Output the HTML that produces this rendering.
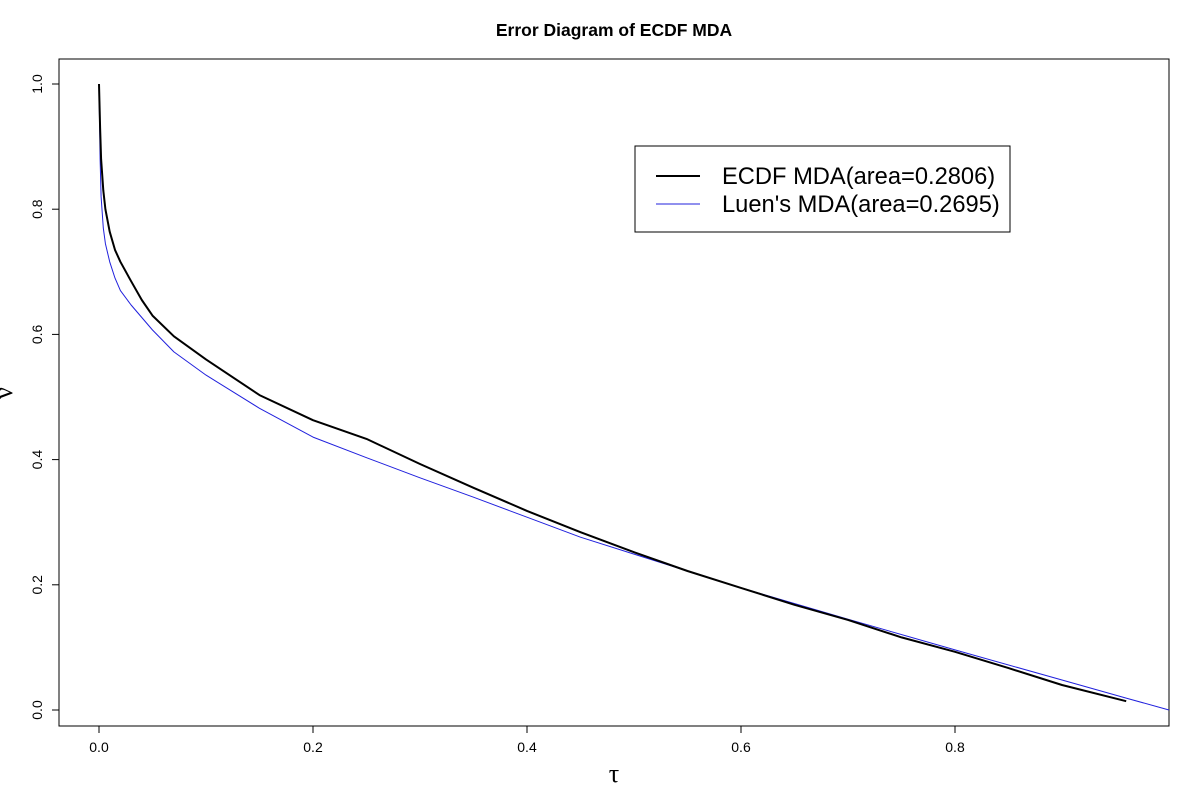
<!DOCTYPE html>
<html><head><meta charset="utf-8"><style>body{margin:0;background:#fff}svg{display:block;font-family:"Liberation Sans",sans-serif}</style></head>
<body>
<svg id="c" width="1200" height="800"></svg>
<script>
const ecdfX=[0,0.001,0.002,0.004,0.006,0.01,0.015,0.02,0.03,0.04,0.05,0.07,0.1,0.15,0.2,0.25,0.3,0.35,0.4,0.45,0.5,0.55,0.6,0.65,0.7,0.75,0.8,0.85,0.9,0.96];
const ecdfY=[1.0,0.93,0.88,0.83,0.8,0.764,0.735,0.716,0.685,0.655,0.63,0.597,0.56,0.503,0.463,0.433,0.393,0.355,0.318,0.284,0.252,0.222,0.195,0.168,0.144,0.116,0.093,0.067,0.04,0.014];
const luenX=[0,0.001,0.002,0.004,0.006,0.01,0.015,0.02,0.03,0.05,0.07,0.1,0.15,0.2,0.25,0.3,0.35,0.4,0.45,0.5,0.55,0.6,0.7,0.8,0.9,0.96,1.0];
const luenY=[1.0,0.88,0.82,0.77,0.745,0.716,0.69,0.67,0.647,0.607,0.572,0.535,0.482,0.436,0.403,0.371,0.34,0.308,0.276,0.249,0.222,0.195,0.145,0.096,0.048,0.019,0.0];
const xTicks=[0,0.2,0.4,0.6,0.8];
const xTickLabels=["0.0","0.2","0.4","0.6","0.8"];
const yTicks=[0,0.2,0.4,0.6,0.8,1.0];
const yTickLabels=["0.0","0.2","0.4","0.6","0.8","1.0"];
const NS="http://www.w3.org/2000/svg",svg=document.getElementById('c');
const sx=v=>99+1070*v, sy=v=>710-626*v;
function mk(t,a,txt){const e=document.createElementNS(NS,t);for(const k in a)e.setAttribute(k,a[k]);if(txt!=null)e.textContent=txt;svg.appendChild(e);return e;}
let e;
e=mk('rect',{x:59,y:59,width:1110,height:667,fill:'none',stroke:'#000'});


e=mk('text',{x:614,y:36,'text-anchor':'middle','font-size':17.5,'font-weight':'bold'},'Error Diagram of ECDF MDA');


e=mk('line',{x1:sx(0),x2:sx(0.8),y1:726,y2:726,stroke:'#000'});


xTicks.forEach((v,i)=>{
 e=mk('line',{x1:sx(v),x2:sx(v),y1:726,y2:733,stroke:'#000'});
 
 
 e=mk('text',{x:sx(v),y:752,'text-anchor':'middle','font-size':14},xTickLabels[i]);
 
 
});
e=mk('line',{x1:59,x2:59,y1:sy(0),y2:sy(1),stroke:'#000'});


yTicks.forEach((v,i)=>{
 e=mk('line',{x1:52,x2:59,y1:sy(v),y2:sy(v),stroke:'#000'});
 
 
 e=mk('text',{x:0,y:0,'text-anchor':'middle','font-size':14,transform:`translate(42,${sy(v)}) rotate(-90)`},yTickLabels[i]);
 
 
});
e=mk('text',{x:614,y:782,'text-anchor':'middle','font-size':26,'font-family':'Liberation Serif, serif'},'τ');


e=mk('text',{x:0,y:0,'text-anchor':'middle','font-size':26,'font-family':'Liberation Serif, serif',transform:'translate(12,393) rotate(-90)'},'ν');


function line(X,Y,col,w,name){const d=X.map((v,i)=>(i?'L':'M')+sx(v).toFixed(1)+','+sy(Y[i]).toFixed(1)).join('');
 e=mk('path',{d,fill:'none',stroke:col,'stroke-width':w,'stroke-linejoin':'round'});
 
 }
line(luenX,luenY,'#2020dd',1,'luen-mda-line');
line(ecdfX,ecdfY,'#000',2,'ecdf-mda-line');
e=mk('rect',{x:635,y:146,width:375,height:86,fill:'#fff',stroke:'#000'});


e=mk('line',{x1:656,x2:700,y1:176,y2:176,stroke:'#000','stroke-width':2});


e=mk('text',{x:722,y:184,'font-size':23.7},'ECDF MDA(area=0.2806)');


e=mk('line',{x1:656,x2:700,y1:204,y2:204,stroke:'#2020dd','stroke-width':1});


e=mk('text',{x:722,y:212,'font-size':23.7},"Luen's MDA(area=0.2695)");


</script>
</body></html>
